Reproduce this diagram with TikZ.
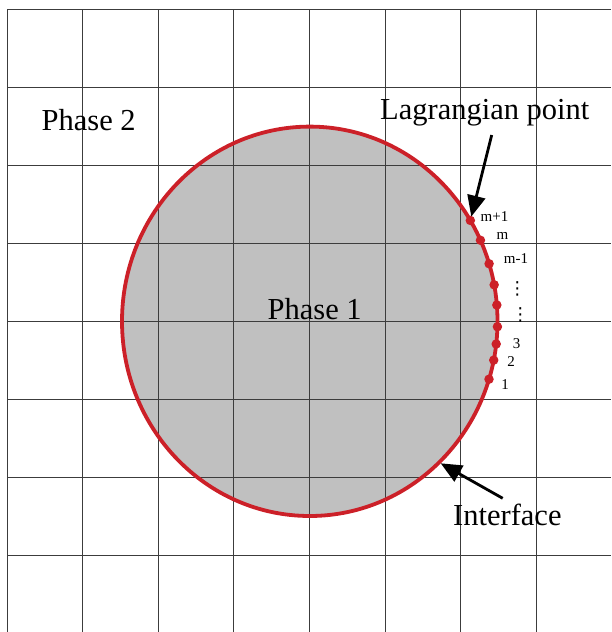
\documentclass[tikz,border=0pt]{standalone}
\usepackage{fontspec}
\setmainfont{Liberation Serif}
\newfontfamily\symfont{DejaVu Sans}
\usetikzlibrary{arrows.meta}
\definecolor{ifred}{RGB}{204,32,40}
\definecolor{phgray}{RGB}{192,192,192}
\definecolor{gridc}{RGB}{60,60,60}
\tikzset{
  gridline/.style={draw=gridc, line width=1pt},
  bigtxt/.style={font=\fontsize{30.5}{30.5}\selectfont, inner sep=0pt, anchor=base west},
  smalltxt/.style={font=\fontsize{15}{15}\selectfont, inner sep=0pt, anchor=base},
  dotstxt/.style={font=\symfont\fontsize{18}{18}\selectfont, inner sep=0pt},
  lpt/.style={circle, fill=ifred, inner sep=0pt, minimum size=9.5pt},
  pointer/.style={draw=black, line width=2.8pt, -{Triangle[length=21pt,width=18pt]}, shorten >=-1pt},
}
\begin{document}
\begin{tikzpicture}[x=1pt,y=-1pt]
\useasboundingbox (0,0) rectangle (611,632);
% phase 1 fill
\fill[phgray] (309.75,321.3) ellipse [x radius=187.75, y radius=194.7];
% grid
\foreach \gx in {7.5,82.5,158.5,233.5,309.5,385.5,460.5,536.5} {
  \draw[gridline] (\gx,9) -- (\gx,632);
}
\foreach \gy in {9.5,87.5,165.5,243.5,321.5,399.5,477.5,555.5} {
  \draw[gridline] (7,\gy) -- (611,\gy);
}
% interface
\draw[ifred, line width=3.8pt] (309.75,321.3) ellipse [x radius=187.75, y radius=194.7];
% Lagrangian points
\foreach \a [count=\k] in {-17.3,-11.5,-6.7,-1.6,4.8,10.8,17.2,24.6,31.2} {
  \node[lpt] (d\k) at ({309.75+187.75*cos(\a)},{321.3-194.7*sin(\a)}) {};
}
% texts
\node[bigtxt] (ph2) at (41.5,130.7) {Phase 2};
\node[bigtxt] (ph1) at (267.5,319) {Phase 1};
\node[bigtxt] (lag) at (380,119.3) {Lagrangian point};
\node[bigtxt] (intf) at (453,525) {Interface};
% small labels
\node[smalltxt] (lm1) at (494.5,221.7) {m+1};
\node[smalltxt] (lm) at (502.5,239.3) {m};
\node[smalltxt] (lmm) at (516,263.3) {m-1};
\node[dotstxt] (vd1) at (517.3,288.5) {⋮};
\node[dotstxt] (vd2) at (520.3,314.5) {⋮};
\node[smalltxt] (l3) at (516.7,348.3) {3};
\node[smalltxt] (l2) at (511,366.7) {2};
\node[smalltxt] (l1) at (505,389) {1};
% arrows
\coordinate (lagtail) at (491.7,135);
\coordinate (inttail) at (502.7,498.3);
\coordinate (inttip) at (440.7,463.3);
\draw[pointer] (lagtail) -- (d9);
\draw[pointer, shorten >=0pt] (inttail) -- (inttip);
\end{tikzpicture}
\end{document}
